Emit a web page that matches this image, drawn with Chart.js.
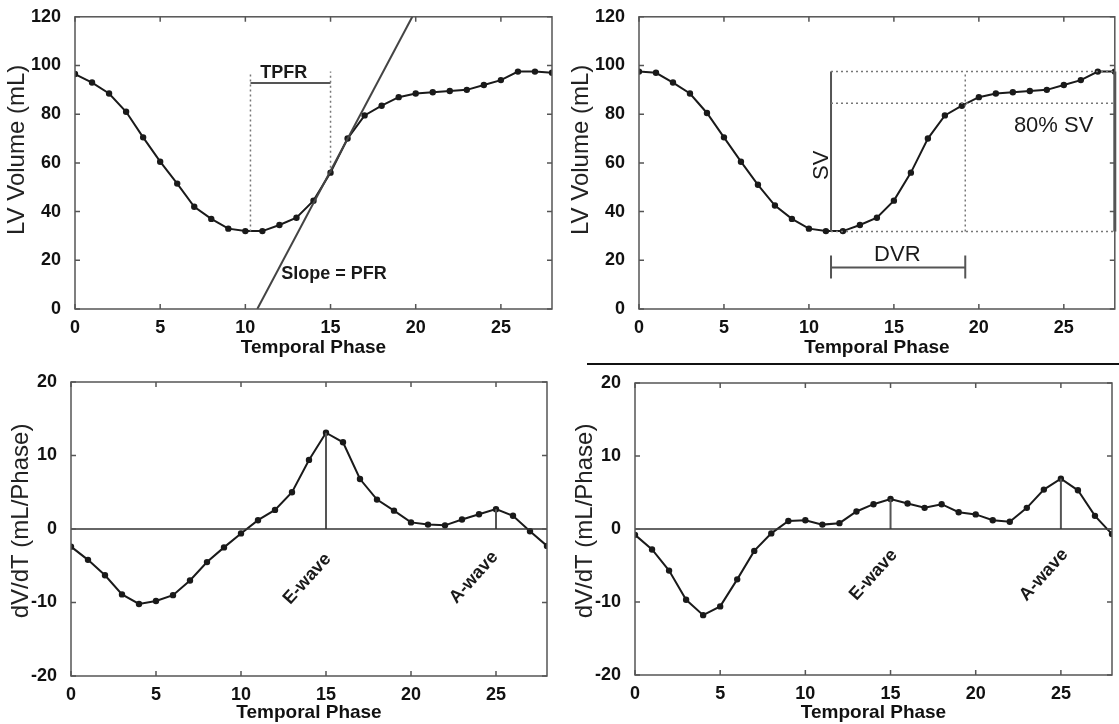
<!DOCTYPE html>
<html>
<head>
<meta charset="utf-8">
<script src="https://cdn.jsdelivr.net/npm/chart.js@4.4.1/dist/chart.umd.min.js"></script>
<style>
  body { margin: 0; background: #fff; }
  #fig { position: relative; width: 1119px; height: 724px; }
  .panel { position: absolute; }
  #rule { position: absolute; left: 587px; top: 363px; width: 532px; height: 2px; background: #111; }
</style>
</head>
<body>
<div id="fig">
  <div class="panel" style="left:0;top:0;width:560px;height:362px"><canvas id="volA"></canvas></div>
  <div class="panel" style="left:560px;top:0;width:559px;height:362px"><canvas id="volB"></canvas></div>
  <div class="panel" style="left:0;top:362px;width:560px;height:362px"><canvas id="rateA"></canvas></div>
  <div class="panel" style="left:560px;top:362px;width:559px;height:362px"><canvas id="rateB"></canvas></div>
  <div id="rule"></div>
</div>
<script>
"use strict";

// temporal phases (x) shared by all four panels
const phases = [0, 1, 2, 3, 4, 5, 6, 7, 8, 9, 10, 11, 12, 13, 14, 15, 16, 17, 18, 19, 20, 21, 22, 23, 24, 25, 26, 27, 28];

// LV volume curves (mL)
const volumeLeft = [96.5, 93, 88.5, 81, 70.5, 60.5, 51.5, 42, 37, 33, 32, 32, 34.5, 37.5, 44.5, 56, 70, 79.5, 83.5, 87, 88.5, 89, 89.5, 90, 92, 94, 97.5, 97.5, 97];
const volumeRight = [97.5, 97, 93, 88.5, 80.5, 70.5, 60.5, 51, 42.5, 37, 33, 32, 32, 34.5, 37.5, 44.5, 56, 70, 79.5, 83.5, 87, 88.5, 89, 89.5, 90, 92, 94, 97.5, 97.5];

// dV/dT curves (mL/phase)
const rateLeft = [-2.4, -4.2, -6.3, -8.9, -10.2, -9.8, -9.0, -7.0, -4.5, -2.5, -0.6, 1.2, 2.6, 5.0, 9.4, 13.1, 11.8, 6.8, 4.0, 2.5, 0.9, 0.6, 0.5, 1.3, 2.0, 2.7, 1.8, -0.3, -2.3];
const rateRight = [-0.8, -2.8, -5.7, -9.7, -11.8, -10.6, -6.9, -3.0, -0.6, 1.1, 1.2, 0.6, 0.8, 2.4, 3.4, 4.1, 3.5, 2.9, 3.4, 2.3, 2.0, 1.2, 1.0, 2.9, 5.4, 6.9, 5.3, 1.8, -0.7];

// tick labels
const phaseTicks = [0, 5, 10, 15, 20, 25];
const volumeTicks = [0, 20, 40, 60, 80, 100, 120];
const rateTicks = [-20, -10, 0, 10, 20];

// annotation values (panel A: PFR / TPFR)
const pfrLine = { x: [10.7, 19.8], y: [0, 120] };
const tpfrStart = 10.3, tpfrEnd = 15, tpfrLevel = 92.8, tpfrTop = 97.5;
const tpfrStartVol = 31.8, tpfrEndVol = 56;

// annotation values (panel B: SV / DVR)
const esPhase = 11.3, dvrPhase = 19.2, lastPhase = 28;
const esVol = 31.8, edVol = 97.5, sv80Vol = 84.5;
const dvrLevel = 17, dvrCap = [12.5, 22];

// peak markers on the rate curves
const eWavePhase = 15, aWavePhase = 25;

const FONT = "'Liberation Sans', Arial, Helvetica, sans-serif";
const INK = '#1a1a1a';
const GREY = '#555';

function pts(xs, ys) {
    return xs.map((x, i) => ({ x: x, y: ys[i] }));
}

function curve(ys) {
    return {
        data: pts(phases, ys),
        borderColor: INK, backgroundColor: INK,
        borderWidth: 2, pointRadius: 2.2, pointHoverRadius: 2.2,
        tension: 0
    };
}

function seg(xs, ys, opts) {
    return Object.assign({
        data: pts(xs, ys),
        borderColor: GREY, borderWidth: 2, pointRadius: 0, tension: 0
    }, opts || {});
}

const dotted = { borderColor: '#777', borderWidth: 1.5, borderDash: [2, 3] };

// frame with inward tick marks, like the original figure
const framePlugin = {
    id: 'frame',
    afterDraw(chart) {
        const { ctx, chartArea: a, scales } = chart;
        ctx.save();
        ctx.strokeStyle = '#555';
        ctx.lineWidth = 1.5;
        ctx.strokeRect(a.left, a.top, a.right - a.left, a.bottom - a.top);
        ctx.beginPath();
        scales.x.ticks.forEach(t => {
            const px = scales.x.getPixelForValue(t.value);
            ctx.moveTo(px, a.bottom); ctx.lineTo(px, a.bottom - 5);
            ctx.moveTo(px, a.top); ctx.lineTo(px, a.top + 5);
        });
        scales.y.ticks.forEach(t => {
            const py = scales.y.getPixelForValue(t.value);
            ctx.moveTo(a.left, py); ctx.lineTo(a.left + 5, py);
            ctx.moveTo(a.right, py); ctx.lineTo(a.right - 5, py);
        });
        ctx.stroke();
        ctx.restore();
    }
};

// text notes placed in data coordinates
function notesPlugin(notes) {
    return {
        id: 'notes',
        afterDatasetsDraw(chart) {
            const { ctx, scales } = chart;
            notes.forEach(n => {
                ctx.save();
                ctx.translate(scales.x.getPixelForValue(n.x), scales.y.getPixelForValue(n.y));
                ctx.rotate((n.rot || 0) * Math.PI / 180);
                ctx.font = n.font;
                ctx.fillStyle = INK;
                ctx.textAlign = 'center';
                ctx.textBaseline = 'middle';
                ctx.fillText(n.text, 0, 0);
                ctx.restore();
            });
        }
    };
}

// rotated y-axis title, sitting a little above the centre of the axis like the original
function yTitlePlugin(text, cx, shift) {
    return {
        id: 'yTitle',
        afterDraw(chart) {
            const { ctx, chartArea: a } = chart;
            ctx.save();
            ctx.translate(cx, (a.top + a.bottom) / 2 + shift);
            ctx.rotate(-Math.PI / 2);
            ctx.font = '24px ' + FONT;
            ctx.fillStyle = '#222';
            ctx.textAlign = 'center';
            ctx.textBaseline = 'middle';
            ctx.fillText(text, 0, 0);
            ctx.restore();
        }
    };
}

function makePanel(id, box, yMin, yMax, yTicks, yTitle, datasets, notes) {
    new Chart(document.getElementById(id), {
        type: 'line',
        data: { datasets: datasets },
        plugins: [framePlugin, notesPlugin(notes), yTitlePlugin(yTitle, box.titleX, box.titleShift)],
        options: {
            responsive: true,
            maintainAspectRatio: false,
            animation: false,
            events: [],
            layout: { padding: { top: box.top, right: box.right, left: 0, bottom: 0 } },
            plugins: { legend: { display: false }, tooltip: { enabled: false } },
            scales: {
                x: {
                    type: 'linear', min: 0, max: 28,
                    afterBuildTicks: s => { s.ticks = phaseTicks.map(v => ({ value: v })); },
                    afterFit: s => { s.height = box.xh; },
                    grid: { display: false },
                    border: { display: false },
                    ticks: { color: '#111', padding: 0, maxRotation: 0, font: { family: FONT, size: 18, weight: 'bold' } },
                    title: { display: true, text: 'Temporal Phase', color: '#111', padding: { top: 0, bottom: box.titlePad },
                             font: { family: FONT, size: 19, weight: 'bold' } }
                },
                y: {
                    type: 'linear', min: yMin, max: yMax,
                    afterBuildTicks: s => { s.ticks = yTicks.map(v => ({ value: v })); },
                    afterFit: s => { s.width = box.yw; },
                    grid: { display: false },
                    border: { display: false },
                    ticks: { color: '#111', padding: 6, font: { family: FONT, size: 18, weight: 'bold' } }
                }
            }
        }
    });
}

// top-left: LV volume, PFR tangent and TPFR
makePanel('volA', { yw: 75, xh: 53, top: 14, right: 8, titlePad: 3, titleX: 17, titleShift: -13 }, 0, 120, volumeTicks, 'LV Volume (mL)', [
    seg(pfrLine.x, pfrLine.y, { borderColor: '#444', borderWidth: 2 }),
    seg([tpfrStart, tpfrStart], [tpfrStartVol, tpfrTop], dotted),
    seg([tpfrEnd, tpfrEnd], [tpfrEndVol, tpfrTop], dotted),
    seg([tpfrStart, tpfrEnd], [tpfrLevel, tpfrLevel]),
    curve(volumeLeft)
], [
    { text: 'TPFR', x: 12.25, y: 96.8, font: 'bold 18px ' + FONT },
    { text: 'Slope = PFR', x: 15.2, y: 14.2, font: 'bold 18px ' + FONT }
]);

// top-right: LV volume, SV and DVR
makePanel('volB', { yw: 79, xh: 53, top: 14, right: 2, titlePad: 3, titleX: 21, titleShift: -13 }, 0, 120, volumeTicks, 'LV Volume (mL)', [
    seg([esPhase, lastPhase], [edVol, edVol], dotted),
    seg([esPhase, lastPhase], [sv80Vol, sv80Vol], dotted),
    seg([esPhase, lastPhase], [esVol, esVol], dotted),
    seg([dvrPhase, dvrPhase], [esVol, edVol], dotted),
    seg([esPhase, esPhase], [esVol, edVol]),
    seg([lastPhase, lastPhase], [esVol, edVol], { borderWidth: 3, clip: 4 }),
    seg([esPhase, dvrPhase], [dvrLevel, dvrLevel]),
    seg([esPhase, esPhase], dvrCap),
    seg([dvrPhase, dvrPhase], dvrCap),
    curve(volumeRight)
], [
    { text: 'SV', x: 10.75, y: 59, rot: -90, font: '22px ' + FONT },
    { text: 'DVR', x: 15.2, y: 22.3, font: '22px ' + FONT },
    { text: '80% SV', x: 24.4, y: 75, font: '22px ' + FONT }
]);

// bottom-left: dV/dT with E and A waves
makePanel('rateA', { yw: 71, xh: 48, top: 20, right: 13, titlePad: 0, titleX: 21, titleShift: -8 }, -20, 20, rateTicks, 'dV/dT (mL/Phase)', [
    seg([0, 28], [0, 0], { borderColor: '#333', borderWidth: 1.5 }),
    seg([eWavePhase, eWavePhase], [0, rateLeft[eWavePhase]]),
    seg([aWavePhase, aWavePhase], [0, rateLeft[aWavePhase]]),
    curve(rateLeft)
], [
    { text: 'E-wave', x: 13.9, y: -6.8, rot: -48, font: 'bold 18px ' + FONT },
    { text: 'A-wave', x: 23.7, y: -6.6, rot: -48, font: 'bold 18px ' + FONT }
]);

// bottom-right: dV/dT with E and A waves
makePanel('rateB', { yw: 75, xh: 49, top: 21, right: 7, titlePad: 0, titleX: 25, titleShift: -8 }, -20, 20, rateTicks, 'dV/dT (mL/Phase)', [
    seg([0, 28], [0, 0], { borderColor: '#333', borderWidth: 1.5 }),
    seg([eWavePhase, eWavePhase], [0, rateRight[eWavePhase]]),
    seg([aWavePhase, aWavePhase], [0, rateRight[aWavePhase]]),
    curve(rateRight)
], [
    { text: 'E-wave', x: 14.0, y: -6.3, rot: -48, font: 'bold 18px ' + FONT },
    { text: 'A-wave', x: 24.0, y: -6.3, rot: -48, font: 'bold 18px ' + FONT }
]);
</script>
</body>
</html>
